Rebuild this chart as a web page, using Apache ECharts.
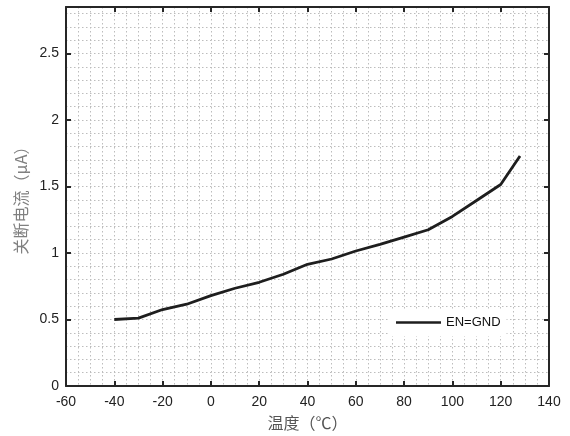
<!DOCTYPE html>
<html>
<head>
<meta charset="utf-8">
<script src="https://cdn.jsdelivr.net/npm/echarts@6/dist/echarts.min.js"></script>
<style>
    html, body { margin: 0; padding: 0; background: #fff; }
    #chart { width: 570px; height: 436px; }
</style>
</head>
<body>
<div id="chart"></div>
<script>
// 温度 (℃)
const temps = [-40, -30, -20, -10, 0, 10, 20, 30, 40, 50, 60, 70, 80, 90, 100, 110, 120, 128];
// 关断电流 (μA)
const offCurrent = [0.50, 0.51, 0.575, 0.615, 0.68, 0.735, 0.78, 0.84, 0.915, 0.955, 1.015, 1.065, 1.12, 1.175, 1.275, 1.395, 1.515, 1.73];
const seriesName = 'EN=GND';
const xRange = [-60, 140];
const yRange = [0, 2.85];

const axisColor = '#262626';
const gridColor = '#bdbdbd';
const labelFont = 'Liberation Sans, Arial, sans-serif';
const cjkFont = 'Noto Sans CJK SC, sans-serif';

let myChart = echarts.init(document.getElementById('chart'));

const dotted = { show: true, lineStyle: { color: gridColor, type: [1.5, 2.5], width: 1 } };

let option = {
    animation: false,
    grid: { left: 66, right: 21, top: 7, bottom: 50 },
    legend: {
        data: [seriesName],
        left: 390,
        top: 309,
        padding: [7, 6],
        backgroundColor: '#fff',
        icon: 'rect',
        itemWidth: 45,
        itemHeight: 2.5,
        textStyle: { fontFamily: labelFont, fontSize: 13, color: '#111' }
    },
    xAxis: [{
        type: 'value',
        min: xRange[0],
        max: xRange[1],
        interval: 20,
        name: '温度（℃）',
        nameLocation: 'middle',
        nameGap: 29,
        nameTextStyle: { fontFamily: cjkFont, fontSize: 16, color: '#555' },
        axisLine: { onZero: false, lineStyle: { color: axisColor, width: 2 } },
        axisTick: { inside: true, length: 5, lineStyle: { color: axisColor, width: 2 } },
        axisLabel: { fontFamily: labelFont, fontSize: 14, color: '#222', margin: 9 },
        splitLine: dotted,
        minorTick: { show: false, splitNumber: 4 },
        minorSplitLine: dotted
    }, {
        type: 'value',
        position: 'top',
        min: xRange[0],
        max: xRange[1],
        interval: 20,
        axisLine: { onZero: false, lineStyle: { color: axisColor, width: 2 } },
        axisTick: { inside: true, length: 5, lineStyle: { color: axisColor, width: 2 } },
        axisLabel: { show: false },
        splitLine: { show: false }
    }],
    yAxis: [{
        type: 'value',
        min: yRange[0],
        max: yRange[1],
        interval: 0.5,
        name: '关断电流（μA）',
        nameLocation: 'middle',
        nameGap: 34,
        nameTextStyle: { fontFamily: cjkFont, fontSize: 16, color: '#808080' },
        axisLine: { show: true, onZero: false, lineStyle: { color: axisColor, width: 2 } },
        axisTick: { show: true, inside: true, length: 5, lineStyle: { color: axisColor, width: 2 } },
        axisLabel: { fontFamily: labelFont, fontSize: 14, color: '#222', margin: 7, showMaxLabel: false },
        splitLine: { show: false }
    }, {
        type: 'value',
        position: 'right',
        min: yRange[0],
        max: yRange[1],
        interval: 0.5,
        axisLine: { show: true, onZero: false, lineStyle: { color: axisColor, width: 2 } },
        axisTick: { show: true, inside: true, length: 5, lineStyle: { color: axisColor, width: 2 } },
        axisLabel: { show: false },
        splitLine: { show: false }
    }, {
        // 细网格 0.1
        type: 'value',
        position: 'left',
        min: yRange[0],
        max: yRange[1],
        interval: 0.1,
        axisLine: { show: false },
        axisTick: { show: false },
        axisLabel: { show: false },
        splitLine: dotted
    }],
    series: [{
        name: seriesName,
        type: 'line',
        data: temps.map((t, i) => [t, offCurrent[i]]),
        symbol: 'none',
        z: 5,
        lineStyle: { color: '#1e1e1e', width: 2.8 },
        itemStyle: { color: '#1e1e1e' }
    }]
};
myChart.setOption(option);
</script>
</body>
</html>
